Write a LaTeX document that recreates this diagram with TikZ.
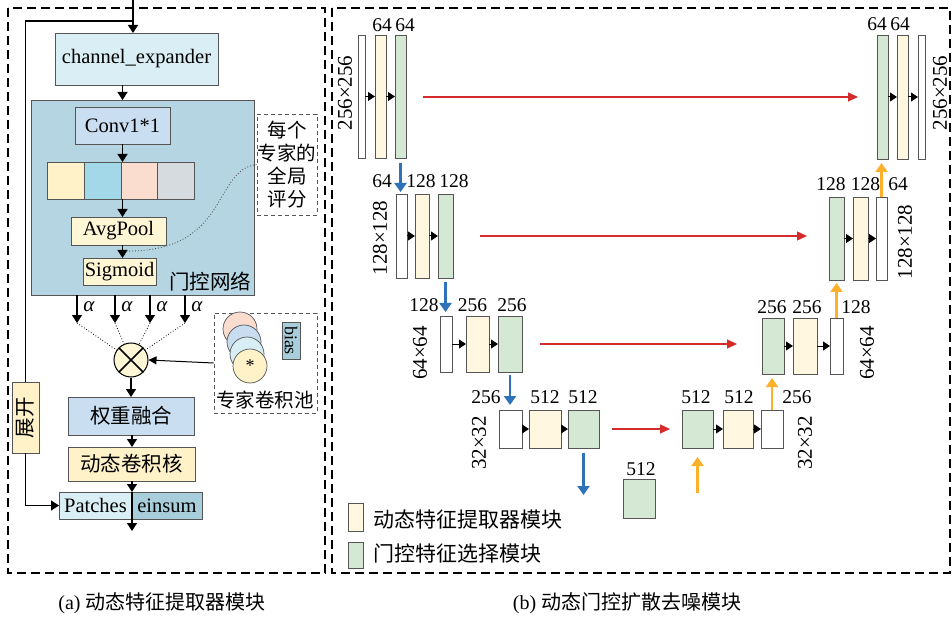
\documentclass[tikz,border=0pt]{standalone}
\usepackage{fontspec}
\setmainfont{Liberation Serif}
\newfontfamily\cjk{Noto Sans CJK SC}
\usetikzlibrary{arrows.meta,calc}

\definecolor{cyanL}{HTML}{DAEFF5}
\definecolor{gateC}{HTML}{B5D5E2}
\definecolor{convC}{HTML}{C9DEF0}
\definecolor{creamC}{HTML}{FFF6D5}
\definecolor{yelC}{HTML}{FFF7E0}
\definecolor{grnC}{HTML}{D5E8D4}
\definecolor{cA}{HTML}{FFF2C8}
\definecolor{cB}{HTML}{A3D8E8}
\definecolor{cC}{HTML}{FBDDD0}
\definecolor{cD}{HTML}{D6DBDF}
\definecolor{cE}{HTML}{C9DDF0}
\definecolor{cF}{HTML}{D8EEF5}
\definecolor{einC}{HTML}{A8CDDB}
\definecolor{redC}{HTML}{D62B2B}
\definecolor{bluC}{HTML}{2E72BA}
\definecolor{orgC}{HTML}{FDB12A}
\definecolor{edgeC}{HTML}{555555}

\newcommand{\fLat}{\fontsize{20.5}{22}\selectfont}
\newcommand{\fCjk}{\cjk\fontsize{20.5}{22}\selectfont}
\newcommand{\fCjkS}{\cjk\fontsize{19.5}{23}\selectfont}
\newcommand{\fNum}{\fontsize{19.5}{19.5}\selectfont}
\newcommand{\fDim}{\fontsize{21}{21}\selectfont}
\newcommand{\bx}[7]{\node[#1,minimum width={(#4-#2)*1pt},minimum height={(#5-#3)*1pt}] (#6) at ({(#2+#4)/2},{(#3+#5)/2}) {#7};}

\tikzset{
  box/.style={draw=edgeC, line width=0.7pt, inner sep=0pt, outer sep=0pt},
  wb/.style={box, fill=white},
  yb/.style={box, fill=yelC},
  gb/.style={box, fill=grnC},
  panel/.style={line width=1.4pt, dash pattern=on 9pt off 5pt},
  sbox/.style={draw=edgeC, line width=0.9pt, dash pattern=on 4pt off 3pt, fill=white, inner sep=0pt},
  arr/.style={line width=1.3pt, -{Triangle[length=8pt,width=10pt]}},
  sarr/.style={line width=1pt, -{Triangle[length=7pt,width=9pt]}},
  rarr/.style={redC, line width=1.2pt, -{Triangle[length=10pt,width=9pt]}},
  barr/.style={bluC, line width=2.8pt, -{Triangle[length=9pt,width=12pt]}},
  oarr/.style={orgC, line width=2.8pt, -{Triangle[length=9pt,width=12pt]}},
  num/.style={font=\fNum, anchor=base, inner sep=0pt},
  dimlab/.style={font=\fDim, rotate=90, inner sep=0pt},
  pc/.style={circle, draw=edgeC, minimum size=34pt, inner sep=0pt, line width=0.7pt}
}

\begin{document}
\begin{tikzpicture}[x=1pt,y=-1pt]
\useasboundingbox (0,0) rectangle (952,617);

% panels
\draw[panel] (8,8) rectangle (325,573);
\draw[panel] (332,8) rectangle (950,573);

% ================= left panel =================
\bx{box,fill=cyanL,font=\fLat}{55}{33}{218}{85}{ce}{channel\_expander}
\bx{box,fill=gateC}{31}{100}{254}{295}{gate}{}
\node[font=\fCjk, inner sep=0pt] (gatel) at (210,282) {门控网络};
\bx{box,fill=convC,font=\fLat}{75}{107}{170}{144}{conv}{Conv1*1}
\bx{box,fill=cA}{47}{162}{84}{199}{s1}{}
\bx{box,fill=cB}{84}{162}{121}{199}{s2}{}
\bx{box,fill=cC}{121}{162}{157}{199}{s3}{}
\bx{box,fill=cD}{157}{162}{194}{199}{s4}{}
\bx{box,fill=creamC,font=\fLat}{71}{217}{166}{245}{avg}{AvgPool}
\bx{box,fill=creamC,font=\fLat}{83}{258}{156}{285}{sig}{Sigmoid}

\draw[arr] (ce.south -| conv.north) -- (conv.north |- gate.north);
\draw[arr] (conv.south) -- (conv.south |- s2.north);
\draw[arr] (conv.south |- s2.south) -- (conv.south |- avg.north);
\draw[arr] (conv.south |- avg.south) -- (conv.south |- sig.north);

\node[sbox, minimum width=60pt, minimum height=101pt, align=center, font=\fCjkS] (score) at (287,164.5) {每个\\专家的\\全局\\评分};
\coordinate (mid) at (122,251);
\draw[dotted, line width=0.9pt, edgeC] (score.west) .. controls (212,170) and (230,254) .. (mid);

% input and bypass
\coordinate (in) at (133,0);
\coordinate (split) at (133,21);
\draw[arr] (in) -- (in |- ce.north);
\node[box, fill=cA, rotate=90, minimum width=71pt, minimum height=27pt, font=\fCjk] (unf) at (25.5,417.5) {展开};
\draw[line width=1.3pt] (split) -| (unf.east);

% alpha arrows
\node[circle, draw=black, fill=creamC, minimum size=34pt, inner sep=0pt, line width=1pt] (mul) at (131,360) {};
\draw[line width=1.5pt] (mul.north west) -- (mul.south east) (mul.north east) -- (mul.south west);
\foreach \i/\xx in {1/77,2/115,3/150,4/185}{
  \coordinate (a\i) at (\xx,323);
  \draw[arr] (gate.south -| a\i) -- (a\i);
  \node[font=\fontsize{21}{21}\selectfont\itshape, inner sep=0pt] (al\i) at (\xx+12,307) {α};
  \draw[dotted, line width=0.8pt] (a\i) -- (mul);
}

% expert pool
\node[sbox, minimum width=103pt, minimum height=100pt] (pool) at (265.5,363) {};
\node[pc, fill=cC] (p1) at (240,329) {};
\node[pc, fill=cE] (p2) at (244,342) {};
\node[pc, fill=cF] (p3) at (247,354) {};
\node[pc, fill=cA, font=\fontsize{18}{18}\selectfont] (p4) at (250,366) {*};
\node[box, fill=einC, rotate=-90, minimum width=37pt, minimum height=18pt, font=\fontsize{18}{18}\selectfont] (bias) at (291,340.5) {bias};
\node[font=\fCjkS, inner sep=0pt] (poolt) at (265,400) {专家卷积池};
\draw[line width=1pt, -{Triangle[length=8pt,width=8pt]}] (pool.west) -- (mul.east);

% fusion chain
\bx{box,fill=convC,font=\fCjk}{68}{397}{194}{435}{fuse}{权重融合}
\bx{box,fill=cA,font=\fCjk}{68}{447}{195}{481}{kern}{动态卷积核}
\bx{box,fill=cyanL,font=\fLat}{59}{492}{132}{519}{pl}{Patches}
\bx{box,fill=einC,font=\fLat}{132}{492}{202}{519}{pr}{einsum}
\draw[arr] (mul.south) -- (mul.south |- fuse.north);
\draw[arr] (fuse.south -| pr.north west) -- (kern.north -| pr.north west);
\draw[arr] (kern.south -| pr.north west) -- (pr.north west);
\coordinate (out) at (132,531);
\draw[arr] (pr.north west) -- (out);
\draw[arr] (unf.west) |- (pl.west);

% ================= right panel =================
% encoder
\bx{wb}{358}{35}{365}{158}{d1w}{}
\bx{yb}{375}{35}{386}{158}{d1y}{}
\bx{gb}{395}{35}{406}{158}{d1g}{}
\bx{wb}{396}{194}{407}{278}{d2w}{}
\bx{yb}{415}{194}{429}{278}{d2y}{}
\bx{gb}{438}{194}{453}{278}{d2g}{}
\bx{wb}{440}{316}{452}{372}{d3w}{}
\bx{yb}{466}{316}{489}{372}{d3y}{}
\bx{gb}{498}{316}{522}{372}{d3g}{}
\bx{wb}{499}{410}{522}{448}{d4w}{}
\bx{yb}{529}{410}{561}{448}{d4y}{}
\bx{gb}{568}{410}{599}{448}{d4g}{}
\bx{gb}{623}{479}{655}{518}{bot}{}
% decoder
\bx{gb}{682}{410}{713}{448}{u4g}{}
\bx{yb}{723}{410}{753}{448}{u4y}{}
\bx{wb}{761}{410}{783}{448}{u4w}{}
\bx{gb}{762}{318}{784}{374}{u3g}{}
\bx{yb}{793}{318}{817}{374}{u3y}{}
\bx{wb}{830}{318}{843}{374}{u3w}{}
\bx{gb}{829}{197}{844}{280}{u2g}{}
\bx{yb}{853}{197}{868}{280}{u2y}{}
\bx{wb}{876}{197}{887}{280}{u2w}{}
\bx{gb}{877}{35}{888}{159}{u1g}{}
\bx{yb}{897}{35}{908}{159}{u1y}{}
\bx{wb}{918}{35}{925}{159}{u1w}{}

% small black arrows
\foreach \a/\b in {d1w/d1y,d1y/d1g,d2w/d2y,d2y/d2g,d3w/d3y,d3y/d3g,d4w/d4y,d4y/d4g,
                   u4g/u4y,u4y/u4w,u3g/u3y,u3y/u3w,u2g/u2y,u2y/u2w,u1g/u1y,u1y/u1w}{
  \draw[sarr] (\a.east) -- (\b.west);
}

% skip connections
\coordinate (r1a) at (423,97);  \coordinate (r1b) at (858,97);
\coordinate (r2a) at (480,236); \coordinate (r2b) at (807,236);
\coordinate (r3a) at (540,344); \coordinate (r3b) at (737,344);
\coordinate (r4a) at (612,429); \coordinate (r4b) at (670,429);
\draw[rarr] (r1a) -- (r1b);
\draw[rarr] (r2a) -- (r2b);
\draw[rarr] (r3a) -- (r3b);
\draw[rarr] (r4a) -- (r4b);

% down-sampling
\draw[barr, shorten <=5pt, shorten >=2pt] (d1g.south) -- (d1g.south |- d2w.north);
\draw[barr, shorten <=4pt, shorten >=4pt] (d2g.south) -- (d2g.south |- d3w.north);
\draw[barr, shorten <=3pt, shorten >=5pt] (d3g.south) -- (d3g.south |- d4w.north);
\coordinate (bb4) at (583.5,495);
\draw[barr, shorten <=5pt] (d4g.south) -- (bb4);

% up-sampling
\coordinate (ob) at (697.5,493);
\draw[oarr, shorten >=9pt] (ob) -- (u4g.south);
\draw[oarr, shorten >=4pt] (u4w.north) -- (u4w.north |- u3g.south);
\draw[oarr, shorten >=3pt] (u3w.north) -- (u3w.north |- u2g.south);
\draw[oarr, shorten >=4pt] (u2w.north) -- (u2w.north |- u1g.south);

% channel numbers
\node[num] (n1) at (382,32) {64};
\node[num] (n2) at (405,32) {64};
\node[num] (n3) at (382,188) {64};
\node[num] (n4) at (421,188) {128};
\node[num] (n5) at (454,188) {128};
\node[num] (n6) at (424,312) {128};
\node[num] (n7) at (472.5,312) {256};
\node[num] (n8) at (512,312) {256};
\node[num] (n9) at (486,403) {256};
\node[num] (n10) at (545,403) {512};
\node[num] (n11) at (583,403) {512};
\node[num] (n12) at (641,475) {512};
\node[num] (n13) at (696,403) {512};
\node[num] (n14) at (739,403) {512};
\node[num] (n15) at (797,403) {256};
\node[num] (n16) at (772,313) {256};
\node[num] (n17) at (807,313) {256};
\node[num] (n18) at (856,313) {128};
\node[num] (n19) at (831,191) {128};
\node[num] (n20) at (865.5,191) {128};
\node[num] (n21) at (898,191) {64};
\node[num] (n22) at (877,31) {64};
\node[num] (n23) at (900,31) {64};

% resolution labels
\node[dimlab] (r1) at (345,93) {256×256};
\node[dimlab] (r2) at (380,238) {128×128};
\node[dimlab] (r3) at (420,353) {64×64};
\node[dimlab] (r4) at (479,443) {32×32};
\node[dimlab] (r5) at (805,443) {32×32};
\node[dimlab] (r6) at (867,353) {64×64};
\node[dimlab] (r7) at (905,242) {128×128};
\node[dimlab] (r8) at (940,93) {256×256};

% legend
\bx{yb}{348}{503}{363}{531}{lgy}{}
\bx{gb}{348}{542}{363}{568}{lgg}{}
\node[anchor=west, font=\cjk\fontsize{21}{21}\selectfont, inner sep=0pt] (lgyt) at ($(lgy.east)+(10,2)$) {动态特征提取器模块};
\node[anchor=west, font=\cjk\fontsize{21}{21}\selectfont, inner sep=0pt] (lggt) at ($(lgg.east)+(10,-1)$) {门控特征选择模块};

% captions
\node[font=\fontsize{20}{20}\selectfont, inner sep=0pt] (capa) at (162,603) {(a) {\cjk 动态特征提取器模块}};
\node[font=\fontsize{20}{20}\selectfont, inner sep=0pt] (capb) at (627,603) {(b) {\cjk 动态门控扩散去噪模块}};
\end{tikzpicture}
\end{document}
